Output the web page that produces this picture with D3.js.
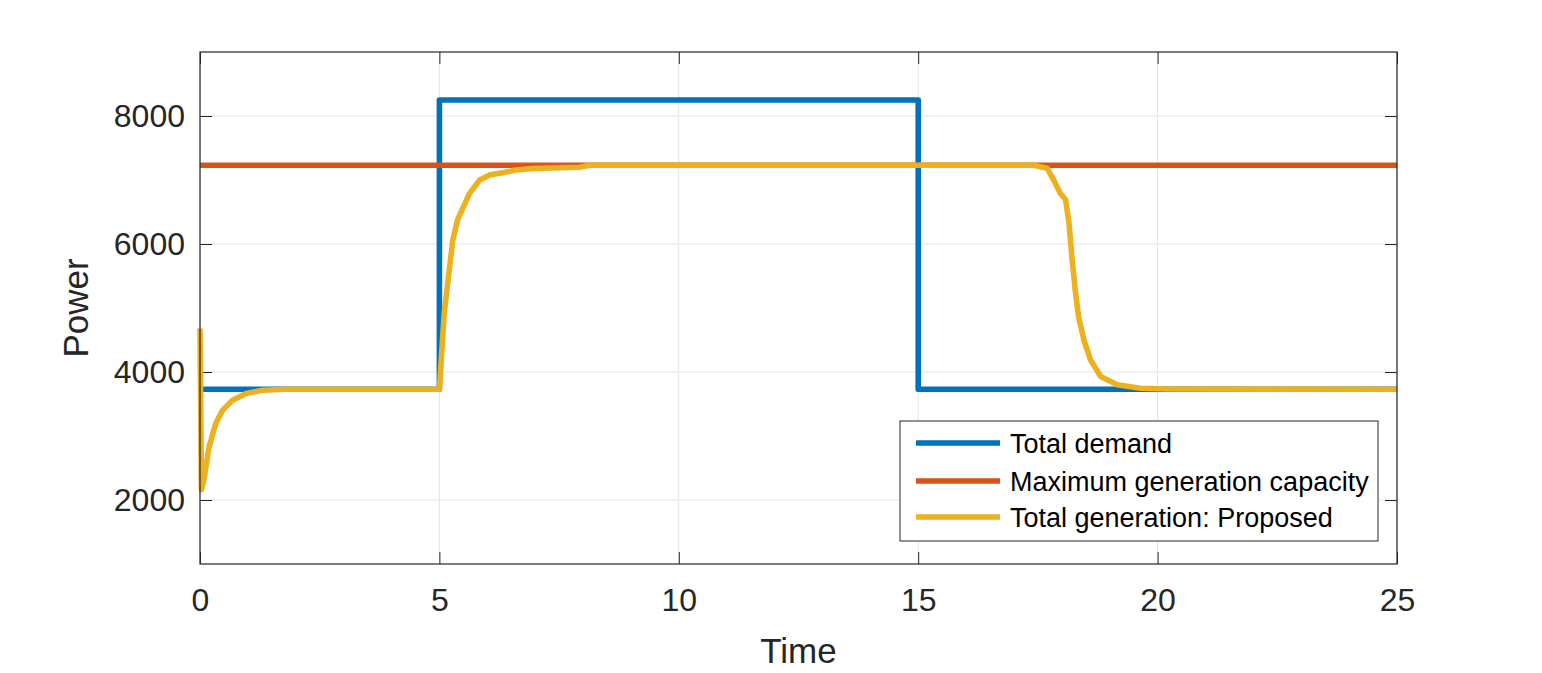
<!DOCTYPE html>
<html>
<head>
<meta charset="utf-8">
<script src="https://cdn.jsdelivr.net/npm/d3@7"></script>
<style>
  html, body { margin: 0; padding: 0; background: #fff; }
  svg { display: block; font-family: "Liberation Sans", Arial, Helvetica, sans-serif; }
</style>
</head>
<body>
<svg id="chart" width="1542" height="673"></svg>
<script>
// Power vs time: demand step, capacity limit, generation response

const xTicks = [0, 5, 10, 15, 20, 25];
const yTicks = [2000, 4000, 6000, 8000];

const demandT = [0, 5, 5, 15, 15, 25];
const demandP = [3730, 3730, 8250, 8250, 3730, 3730];

const capacityT = [0, 25];
const capacityP = [7230, 7230];

const genT = [0, 0.03, 0.08, 0.19, 0.33, 0.47, 0.68, 0.96, 1.31, 1.8,
  5.0, 5.1, 5.28, 5.38, 5.63, 5.84, 6.05, 6.32, 6.6, 6.95, 7.93, 8.14,
  17.41, 17.69, 17.83, 17.97, 18.08, 18.15, 18.21, 18.28, 18.35, 18.46,
  18.6, 18.81, 19.16, 19.64, 20.2, 25];
const genP = [4680, 2160, 2310, 2830, 3200, 3400, 3560, 3665, 3715, 3730,
  3730, 4920, 6060, 6380, 6790, 7000, 7080, 7115, 7155, 7180, 7200, 7230,
  7230, 7185, 7000, 6790, 6690, 6320, 5800, 5280, 4860, 4500,
  4190, 3930, 3800, 3745, 3735, 3730];

const seriesNames = ['Total demand', 'Maximum generation capacity', 'Total generation: Proposed'];
const seriesColors = ['#0072BD', '#D95319', '#EDB120'];

(function () {
  const W = 1542, H = 673;
  const PAD = { top: 52, right: 145, bottom: 109, left: 200 };
  const TICK_LEN = 12;
  const AXIS_COLOR = '#262626';
  const GRID_COLOR = '#e3e3e3';
  const LINE_W = 5.6;

  const svg = d3.select('#chart');

  const x = d3.scaleLinear().domain([0, 25]).range([PAD.left, W - PAD.right]);
  const y = d3.scaleLinear().domain([1000, 9000]).range([H - PAD.bottom, PAD.top]);

  // --- Grille ---
  const grid = svg.append('g');
  grid.selectAll('line.gx').data(xTicks).enter().append('line')
    .attr('x1', d => x(d)).attr('x2', d => x(d))
    .attr('y1', y.range()[1]).attr('y2', y.range()[0])
    .attr('stroke', GRID_COLOR).attr('stroke-width', 1);
  grid.selectAll('line.gy').data(yTicks).enter().append('line')
    .attr('x1', x.range()[0]).attr('x2', x.range()[1])
    .attr('y1', d => y(d)).attr('y2', d => y(d))
    .attr('stroke', GRID_COLOR).attr('stroke-width', 1);

  // --- Axes (ticks vers l'intérieur, en miroir haut/droite) ---
  svg.append('g')
    .attr('transform', `translate(0,${y.range()[0]})`)
    .call(d3.axisBottom(x).tickValues(xTicks).tickFormat(d3.format('d'))
      .tickSizeInner(-TICK_LEN).tickSizeOuter(0).tickPadding(24));
  svg.append('g')
    .attr('transform', `translate(${x.range()[0]},0)`)
    .call(d3.axisLeft(y).tickValues(yTicks).tickFormat(d3.format('d'))
      .tickSizeInner(-TICK_LEN).tickSizeOuter(0).tickPadding(15));
  svg.append('g')
    .attr('transform', `translate(0,${y.range()[1]})`)
    .call(d3.axisTop(x).tickValues(xTicks).tickSizeInner(-TICK_LEN).tickSizeOuter(0).tickFormat(''));
  svg.append('g')
    .attr('transform', `translate(${x.range()[1]},0)`)
    .call(d3.axisRight(y).tickValues(yTicks).tickSizeInner(-TICK_LEN).tickSizeOuter(0).tickFormat(''));

  svg.selectAll('.domain').remove();
  svg.selectAll('.tick line').attr('stroke', AXIS_COLOR);
  svg.selectAll('.tick text')
    .style('font-size', '32px').style('font-family', '"Liberation Sans", Arial, sans-serif')
    .attr('fill', AXIS_COLOR);

  // --- Séries ---
  const series = [
    { t: demandT, p: demandP },
    { t: capacityT, p: capacityP },
    { t: genT, p: genP }
  ];
  const line = d3.line().x(d => x(d[0])).y(d => y(d[1]));
  series.forEach((s, i) => {
    svg.append('path')
      .datum(s.t.map((t, k) => [t, s.p[k]]))
      .attr('d', line)
      .attr('fill', 'none')
      .attr('stroke', seriesColors[i])
      .attr('stroke-width', LINE_W)
      .attr('stroke-linejoin', 'round');
  });

  // --- Cadre ---
  svg.append('rect')
    .attr('x', x.range()[0]).attr('y', y.range()[1])
    .attr('width', x.range()[1] - x.range()[0]).attr('height', y.range()[0] - y.range()[1])
    .attr('fill', 'none').attr('stroke', AXIS_COLOR).attr('stroke-width', 1.2);

  // --- Libellés d'axes ---
  svg.append('text')
    .attr('x', (x.range()[0] + x.range()[1]) / 2).attr('y', 663)
    .attr('text-anchor', 'middle')
    .style('font-size', '35px').attr('fill', AXIS_COLOR)
    .text('Time');
  svg.append('text')
    .attr('transform', `translate(88,${(y.range()[0] + y.range()[1]) / 2}) rotate(-90)`)
    .attr('text-anchor', 'middle')
    .style('font-size', '35px').attr('fill', AXIS_COLOR)
    .text('Power');

  // --- Légende ---
  const LEG = { x: 900, y: 421, w: 478, h: 120, rowY: [443, 481, 517], lineX1: 916, lineX2: 1000, textX: 1010 };
  const legend = svg.append('g');
  legend.append('rect')
    .attr('x', LEG.x).attr('y', LEG.y).attr('width', LEG.w).attr('height', LEG.h)
    .attr('fill', '#fff').attr('stroke', AXIS_COLOR).attr('stroke-width', 1);
  seriesNames.forEach((name, i) => {
    legend.append('line')
      .attr('x1', LEG.lineX1).attr('x2', LEG.lineX2)
      .attr('y1', LEG.rowY[i]).attr('y2', LEG.rowY[i])
      .attr('stroke', seriesColors[i]).attr('stroke-width', LINE_W);
    legend.append('text')
      .attr('x', LEG.textX).attr('y', LEG.rowY[i]).attr('dy', '0.36em')
      .style('font-size', '27px').attr('fill', '#000')
      .text(name);
  });
})();
</script>
</body>
</html>
